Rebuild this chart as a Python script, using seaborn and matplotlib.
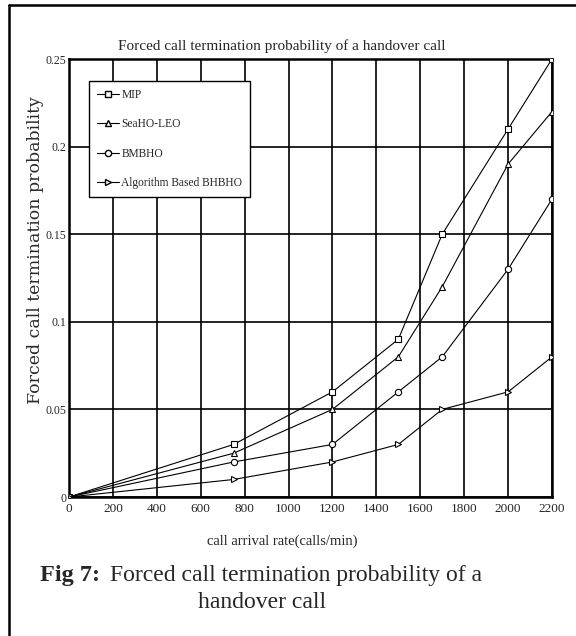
import pandas as pd
import matplotlib.pyplot as plt
import seaborn as sns
from matplotlib.lines import Line2D

# values
arrival_rate = [0, 750, 1200, 1500, 1700, 2000, 2200]
mip = [0, 0.03, 0.06, 0.09, 0.15, 0.21, 0.25]
seaho_leo = [0, 0.025, 0.05, 0.08, 0.12, 0.19, 0.22]
bmbho = [0, 0.02, 0.03, 0.06, 0.08, 0.13, 0.17]
bhbho = [0, 0.01, 0.02, 0.03, 0.05, 0.06, 0.08]
series_names = ['MIP', 'SeaHO-LEO', 'BMBHO', 'Algorithm Based BHBHO']
x_ticks = list(range(0, 2201, 200))
y_ticks = [0, 0.05, 0.1, 0.15, 0.2, 0.25]
y_tick_labels = ['0', '0.05', '0.1', '0.15', '0.2', '0.25']

sns.set_style('white')
plt.rcParams['font.family'] = ['Liberation Serif', 'DejaVu Serif']

frames = []
for name, vals in zip(series_names, [mip, seaho_leo, bmbho, bhbho]):
    frames.append(pd.DataFrame({'rate': arrival_rate, 'prob': vals, 'scheme': name}))
df = pd.concat(frames, ignore_index=True)

markers = {'MIP': 's', 'SeaHO-LEO': '^', 'BMBHO': 'o', 'Algorithm Based BHBHO': '>'}

fig = plt.figure(figsize=(5.76, 6.36), dpi=100)
ax = fig.add_axes([69 / 576, 1 - 497 / 636, 483 / 576, 438 / 636])

sns.lineplot(data=df, x='rate', y='prob', style='scheme', markers=markers,
             dashes=False, color='black', linewidth=0.8, markersize=4.5,
             markerfacecolor='white', markeredgecolor='black', markeredgewidth=0.8,
             legend=False, ax=ax, zorder=3)

ax.set_xlim(0, 2200)
ax.set_ylim(0, 0.25)
ax.set_xticks(x_ticks)
ax.set_yticks(y_ticks)
ax.set_yticklabels(y_tick_labels)
ax.tick_params(axis='x', length=0, labelsize=9.5, pad=4)
ax.tick_params(axis='y', length=0, labelsize=8.5, pad=2)
ax.grid(True, color='black', linewidth=1.2)
for sp in ax.spines.values():
    sp.set_linewidth(1.8)
    sp.set_color('black')

ax.set_xlabel('call arrival rate(calls/min)', fontsize=10.5)
ax.xaxis.set_label_coords((282 - 69) / 483, -(535 - 497) / 438)
ax.set_ylabel('Forced call termination probability', fontsize=12.5,
              fontfamily='DejaVu Serif', color='#2a2a2a')
ax.yaxis.set_label_coords((44 - 69) / 483, (497 - 250) / 438)

handles = [Line2D([], [], color='black', linewidth=0.8, marker=markers[n], markersize=4.5,
                  markerfacecolor='white', markeredgecolor='black') for n in series_names]
leg = ax.legend(handles, series_names, loc='upper left',
                bbox_to_anchor=(20 / 483, 416 / 438), fontsize=8.3,
                frameon=True, fancybox=False, framealpha=1, edgecolor='black',
                handlelength=1.9, handletextpad=0.2, labelspacing=1.5,
                borderpad=0.7, borderaxespad=0)
leg.get_frame().set_linewidth(1.0)
leg.set_zorder(5)

fig.text(282 / 576, 1 - 46 / 636, 'Forced call termination probability of a handover call',
         ha='center', va='center', fontsize=11)

# caption below the chart
fig.text(40 / 576, 1 - 575 / 636, 'Fig 7:', ha='left', va='center',
         fontsize=17.5, fontweight='bold')
fig.text(110 / 576, 1 - 575 / 636, 'Forced call termination probability of a',
         ha='left', va='center', fontsize=17)
fig.text(262 / 576, 1 - 603 / 636, 'handover call', ha='center', va='center', fontsize=17)

# outer frame (left and top edges)
fig.add_artist(Line2D([9 / 576, 9 / 576], [0, 1 - 5 / 636], color='black',
                      linewidth=1.8, transform=fig.transFigure))
fig.add_artist(Line2D([9 / 576, 1], [1 - 5 / 636, 1 - 5 / 636], color='black',
                      linewidth=1.8, transform=fig.transFigure))

fig.savefig('out.png', dpi=100)
